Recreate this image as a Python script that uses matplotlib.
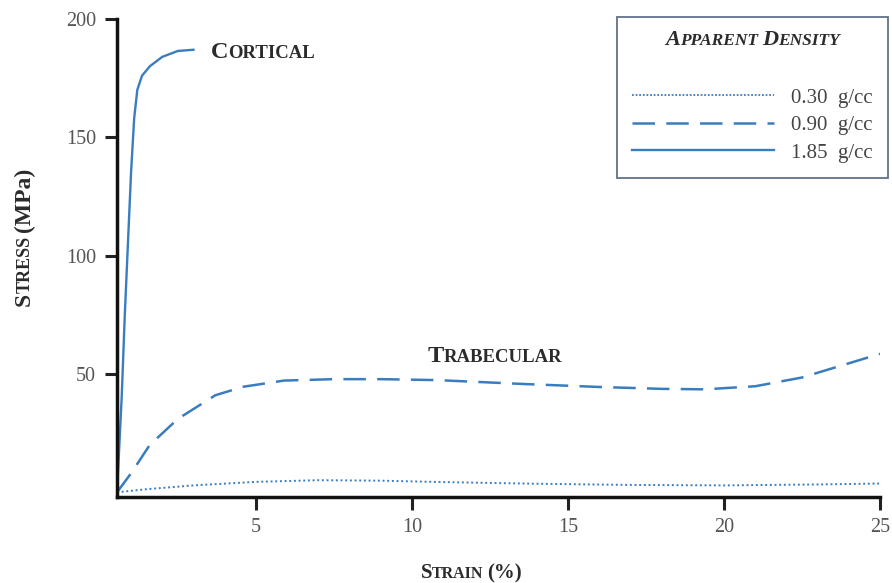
import numpy as np
import matplotlib.pyplot as plt
from matplotlib.lines import Line2D
from matplotlib.transforms import offset_copy

plt.rcParams['font.family'] = ['Liberation Serif', 'DejaVu Serif']

# stress-strain curves for bone of three apparent densities
strain_cortical = [0.55, 0.7, 0.8, 0.9, 1.0, 1.1, 1.2, 1.35, 1.6, 2.0, 2.5, 3.0]
stress_cortical = [0, 40, 75, 105, 135, 158, 170, 176, 180, 184, 186.5, 187]

strain_090 = [0.55, 1.0, 1.6, 2.5, 3.7, 4.6, 5.9, 7.5, 9.0, 10.8, 13.5, 16.0, 18.0, 19.4, 21.0, 22.5, 24.0, 25.0]
stress_090 = [0, 8, 20, 31, 41, 44.6, 47.2, 47.8, 47.8, 47.4, 45.8, 44.5, 43.7, 43.5, 44.8, 48.5, 54.5, 58.5]

strain_030 = [0.55, 1.5, 3.0, 5.0, 7.0, 9.0, 11.0, 14.0, 17.0, 20.0, 23.0, 25.0]
stress_030 = [0, 1.3, 2.9, 4.4, 5.1, 4.9, 4.3, 3.6, 3.1, 2.9, 3.3, 3.7]

density_labels = ['0.30  g/cc', '0.90  g/cc', '1.85  g/cc']
x_ticks = [5, 10, 15, 20, 25]
y_ticks = [50, 100, 150, 200]

blue = '#3a7dbf'
dark = '#2b2b2b'

fig = plt.figure(figsize=(8.92, 5.83), dpi=100)
ax = fig.add_axes([117 / 892, 1 - 497 / 583, (880 - 117) / 892, (497 - 19) / 583])

ax.plot(strain_030, stress_030, color=blue, lw=1.4, linestyle=(0, (1, 1.4)))
ax.plot(strain_090, stress_090, color=blue, lw=1.8, linestyle=(0, (9, 4.5)))
ax.plot(strain_cortical, stress_cortical, color=blue, lw=1.7)

ax.set_xlim(0.55, 25)
ax.set_ylim(-2, 200)
ax.set_xticks(x_ticks)
ax.set_yticks(y_ticks)
for side in ['top', 'right']:
    ax.spines[side].set_visible(False)
for side in ['left', 'bottom']:
    ax.spines[side].set_linewidth(2.5)
    ax.spines[side].set_color('#111111')
ax.tick_params(length=9, width=2.2, color='#222222', labelsize=14.5,
               labelcolor='#555555', pad=6)

# legend with room left at the top for the heading
handles = [Line2D([], [], color=blue, lw=1.3, linestyle=(0, (1, 1))),
           Line2D([], [], color=blue, lw=1.8, linestyle=(0, (9, 4.5))),
           Line2D([], [], color=blue, lw=1.7)]
leg = ax.legend(handles, density_labels, loc='upper right',
                bbox_to_anchor=(888 / 892, 1 - 17 / 583), bbox_transform=fig.transFigure,
                borderaxespad=0, fancybox=False, fontsize=15, handlelength=6.8,
                handletextpad=0.8, labelspacing=0.38, borderpad=0.75,
                title='\n', title_fontsize=19)
leg.get_frame().set_edgecolor('#3a4f6a')
leg.get_frame().set_linewidth(1.3)
for t in leg.get_texts():
    t.set_color('#444444')

fig.canvas.draw()
renderer = fig.canvas.get_renderer()


def caps_text(x, y, parts, transform, rotation=0, center=False, **kw):
    # fake small caps: pieces of text of different sizes on one baseline
    arts, widths = [], []
    for s, size, gap in parts:
        t = fig.text(0, 0, s, fontsize=size, rotation=rotation, rotation_mode='anchor',
                     ha='left', va='baseline', color=dark, **kw)
        bb = t.get_window_extent(renderer)
        arts.append(t)
        widths.append((bb.height if rotation else bb.width) + gap)
    shift = -sum(widths) / 2 if center else 0
    for t, w in zip(arts, widths):
        dx, dy = (0, shift) if rotation else (shift, 0)
        t.set_transform(offset_copy(transform, fig=fig, x=dx, y=dy, units='dots'))
        t.set_position((x, y))
        shift += w


caps_text(3.55, 183.5, [('C', 17.5, 0), ('ORTICAL', 13.5, 0)], ax.transData, fontweight='bold')
caps_text(10.5, 55, [('T', 17.5, 0), ('RABECULAR', 13.5, 0)], ax.transData, fontweight='bold')
caps_text(471 / 892, 1 - 578 / 583, [('S', 15, 0), ('TRAIN', 11.5, 3), ('(%)', 15, 0)],
          fig.transFigure, center=True, fontweight='bold')
caps_text(30 / 892, 1 - 237 / 583, [('S', 17, 0), ('TRESS', 13, 3), ('(MPa)', 17, 0)],
          fig.transFigure, rotation=90, center=True, fontweight='bold')

fb = leg.get_window_extent(renderer)
caps_text((fb.x0 + fb.x1) / 2 / fig.bbox.width, 1 - 45 / 583,
          [('A', 16, 0), ('PPARENT ', 12.5, 0), ('D', 16, 0), ('ENSITY', 12.5, 0)],
          fig.transFigure, center=True, fontweight='bold', fontstyle='italic')

fig.savefig('out.png', dpi=100)
